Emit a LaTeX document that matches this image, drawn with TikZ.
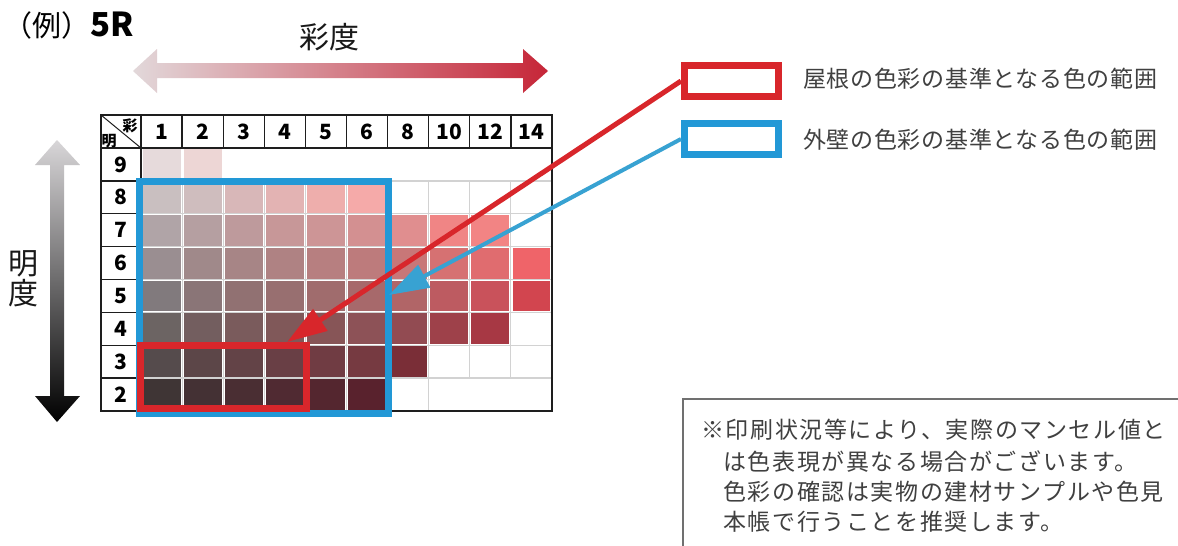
\documentclass[tikz,border=0pt]{standalone}
\usepackage{fontspec}
\setmainfont{Noto Sans CJK JP}
\usetikzlibrary{arrows.meta}
\definecolor{keyred}{HTML}{D8262B}
\definecolor{keyblue}{HTML}{2298D6}
\definecolor{arrblue}{HTML}{38A2D2}
\definecolor{txt}{HTML}{404040}
\definecolor{gridline}{HTML}{1E1E1E}
\definecolor{gridlight}{HTML}{D2D2D2}
\definecolor{notegray}{HTML}{707070}
\begin{document}
\begin{tikzpicture}[x=1pt,y=-1pt,
  keybox/.style={draw, line width=7pt, minimum width=94pt, minimum height=31pt, inner sep=0pt},
  keytext/.style={anchor=west, inner sep=0pt, text=txt, font=\fontsize{23}{23}\selectfont\addfontfeatures{LetterSpace=3}},
  notetext/.style={anchor=west, inner sep=0pt, text=txt, font=\fontsize{23}{23}\selectfont\addfontfeatures{LetterSpace=7}},
  digit/.style={inner sep=0pt, font=\fontsize{21}{21}\selectfont\bfseries},
  cornertext/.style={inner sep=0pt, font=\fontsize{15}{15}\selectfont\bfseries},
  bigtext/.style={inner sep=0pt, text=black!90, font=\fontsize{30}{30}\selectfont},
  redarrow/.style={draw=keyred, line width=5pt, -{Triangle[length=40pt,width=25pt]}},
  bluearrow/.style={draw=arrblue, line width=4pt, -{Triangle[length=40pt,width=25pt]}},
]
\useasboundingbox (0,0) rectangle (1178,546);
\fill[white] (0,0) rectangle (1178,546);

% title
\node[anchor=west, inner sep=0pt] (title) at (3,25)
  {\fontsize{29}{29}\selectfont （例）\fontsize{33}{33}\selectfont\bfseries 5R};

% top gradient arrow (chroma)
\shade[left color={rgb,255:red,226;green,216;blue,218}, middle color={rgb,255:red,214;green,148;blue,136}, right color={rgb,255:red,198;green,38;blue,56}]
  (133,71) -- (157,49) -- (157,63) -- (523,63) -- (523,49) -- (548,71) -- (523,93) -- (523,78) -- (157,78) -- (157,93) -- cycle;
\node[bigtext] (chroma) at (329,37) {彩度};

% vertical gradient arrow (value)
\shade[top color={rgb,255:red,216;green,214;blue,216}, bottom color=black]
  (57,140) -- (80,165) -- (64,165) -- (64,396) -- (80,396) -- (57,422) -- (35,396) -- (50,396) -- (50,165) -- (35,165) -- cycle;
\node[bigtext, align=center, font=\fontsize{30}{29.5}\selectfont] (value) at (24,279) {明\\度};

% light body grid
\foreach \i in {1,...,7} {
  \draw[gridlight, line width=1.4pt] (141,{148+32.875*\i}) -- (552,{148+32.875*\i});
}
\foreach \i in {1,...,7} {
  \draw[gridlight, line width=1pt] ({141+41.1*\i},181) -- ({141+41.1*\i},411);
}
\foreach \i in {8,9} {
  \draw[gridlight, line width=1pt] ({141+41.1*\i},181) -- ({141+41.1*\i},379);
}

% colour cells
\foreach \c/\r/\h in {
  0/0/E6DADB, 1/0/EDD6D5,
  0/1/C9BFC0, 1/1/CFBDBE, 2/1/D8B7B8, 3/1/E3B3B3, 4/1/EEAEAC, 5/1/F5AAA9,
  0/2/B0A4A7, 1/2/B59FA1, 2/2/BE9A9C, 3/2/C79798, 4/2/CD9596, 5/2/D39091, 6/2/E08E8F, 7/2/F08585, 8/2/F28484,
  0/3/9A8E91, 1/3/A0898A, 2/3/A78586, 3/3/AF8283, 4/3/B77F80, 5/3/BD7B7C, 6/3/C87778, 7/3/D67172, 8/3/E06C6F, 9/3/EF6469,
  0/4/817A7D, 1/4/8A7577, 2/4/917172, 3/4/986F70, 4/4/A06C6D, 5/4/A7696B, 6/4/B16567, 7/4/BD5B61, 8/4/C9525B, 9/4/D2454F,
  0/5/6C6463, 1/5/735E5F, 2/5/7A5B5C, 3/5/805859, 4/5/875557, 5/5/8D5257, 6/5/924B52, 7/5/9E414A, 8/5/A73844,
  0/6/554B4C, 1/6/5C4648, 2/6/634347, 3/6/693F45, 4/6/703C43, 5/6/763A41, 6/6/7A2E37,
  0/7/3F3535, 1/7/443134, 2/7/4A2E33, 3/7/502A32, 4/7/54262F, 5/7/59222D} {
  \definecolor{cellc}{HTML}{\h}
  \fill[cellc] ({141+41.1*\c+1.6},{148+32.875*\r+1}) rectangle ({141+41.1*(\c+1)-1.6},{148+32.875*(\r+1)-1});
}

% dark grid: frame, header row, label column
\draw[gridline, line width=1.3pt] (101,115) rectangle (552,411);
\draw[gridline, line width=1.3pt] (101,148) -- (552,148);
\draw[gridline, line width=1.3pt] (141,115) -- (141,411);
\foreach \i in {1,...,9} {
  \draw[gridline, line width=1.3pt] ({141+41.1*\i},115) -- ({141+41.1*\i},148);
}
\foreach \i in {1,...,7} {
  \draw[gridline, line width=1.3pt] (101,{148+32.875*\i}) -- (141,{148+32.875*\i});
}
\draw[gridline, line width=1pt] (101,115) -- (141,148);
\node[cornertext] (cornerC) at (130,126) {彩};
\node[cornertext] (cornerV) at (109,141) {明};

% header digits
\foreach \c/\t in {0/1,1/2,2/3,3/4,4/5,5/6,6/8,7/10,8/12,9/14} {
  \node[digit] (h\t) at ({141+41.1*\c+20.55},132) {\t};
}
% row labels
\foreach \r/\t in {0/9,1/8,2/7,3/6,4/5,5/4,6/3,7/2} {
  \node[digit] (v\t) at (121,{148+32.875*\r+16.4}) {\t};
}

% range boxes
\draw[keyblue, line width=7pt] (139.5,181.5) rectangle (388,413.5);
\coordinate (bluetip) at (389,295);
\coordinate (redtip) at (287,342);

% legend
\node[keybox, draw=keyred] (redkey) at (731.5,81) {};
\node[keybox, draw=keyblue] (bluekey) at (731.5,139) {};
\node[keytext] (redlabel) at (803,79) {屋根の色彩の基準となる色の範囲};
\node[keytext] (bluelabel) at (803,140) {外壁の色彩の基準となる色の範囲};

% arrows
\draw[redarrow] (redkey.west) -- (redtip);
\draw[keyred, line width=7pt] (140.5,345) rectangle (306,408);
\draw[bluearrow] (bluekey.west) -- (bluetip);

% note box
\draw[notegray, line width=2pt] (683,550) -- (683,399) -- (1182,399);
\node[notetext] (note1) at (701,430) {※印刷状況等により、実際のマンセル値と};
\node[notetext] (note2) at (723,462) {は色表現が異なる場合がございます。};
\node[notetext] (note3) at (723,492) {色彩の確認は実物の建材サンプルや色見};
\node[notetext] (note4) at (723,522) {本帳で行うことを推奨します。};
\end{tikzpicture}
\end{document}
